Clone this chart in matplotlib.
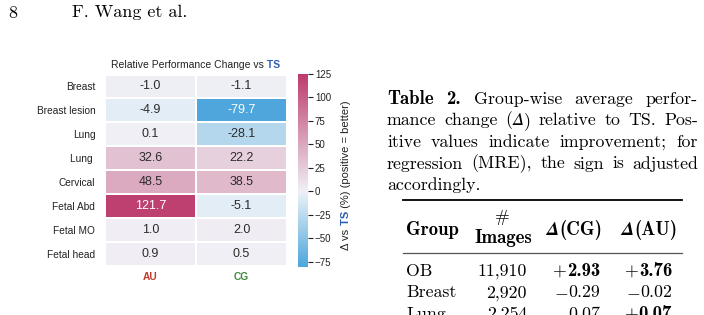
import matplotlib
matplotlib.use("Agg")
import matplotlib.pyplot as plt
import numpy as np
from matplotlib.colors import LinearSegmentedColormap, Normalize

W, H = 704, 315

# heatmap data
rows = ["Breast", "Breast lesion", "Lung", "Lung ", "Cervical", "Fetal Abd", "Fetal MO", "Fetal head"]
methods = ["AU", "CG"]
method_colors = ["#c0392b", "#3d8b3d"]
au_delta = [-1.0, -4.9, 0.1, 32.6, 48.5, 121.7, 1.0, 0.9]
cg_delta = [-1.1, -79.7, -28.1, 22.2, 38.5, -5.1, 2.0, 0.5]
cbar_ticks = [-75, -50, -25, 0, 25, 50, 75, 100, 125]
vmin, vmax = -80, 125

# table data
tab_groups = ["OB", "Breast", "Lung"]
tab_images = ["11,910", "2,920", "2,254"]
tab_cg = [2.93, -0.29, -0.07]
tab_au = [3.76, -0.02, 0.07]
tab_cg_bold = [True, False, False]
tab_au_bold = [True, False, True]

TS_BLUE = "#2f5fb3"
SANS = "Liberation Sans"
plt.rcParams["mathtext.fontset"] = "cm"

fig = plt.figure(figsize=(W / 100, H / 100), dpi=100)
fig.patch.set_facecolor("white")
renderer = fig.canvas.get_renderer()


def put(x, y, s, **kw):
    return fig.text(x / W, 1 - y / H, s, **kw)


def widths_of(texts):
    return [t.get_window_extent(renderer).width for t in texts]


def chain_h(parts, x, y, align="center", **kw):
    # horizontal run of differently styled pieces
    texts = [put(x, y, s, ha="left", va="baseline", **{**kw, **extra}) for s, extra in parts]
    ws = widths_of(texts)
    if align == "center":
        x = x - sum(ws) / 2
    elif align == "right":
        x = x - sum(ws)
    for t, w in zip(texts, ws):
        t.set_x(x / W)
        x += w


def chain_v(parts, x, yc, **kw):
    # vertical (rotated 90) run, reading bottom to top, centred on yc
    texts = [put(x, yc, s, ha="center", va="bottom", rotation=90, **{**kw, **extra})
             for s, extra in parts]
    heights = [t.get_window_extent(renderer).height for t in texts]
    y = yc + sum(heights) / 2
    for t, h in zip(texts, heights):
        t.set_y(1 - y / H)
        y -= h


def justify(words, x0, x1, y, stretch=True, **kw):
    # each word is a list of (text, style) pieces
    placed = []
    for pieces in words:
        ts = [put(x0, y, s, ha="left", va="baseline", **{**kw, **extra}) for s, extra in pieces]
        placed.append((ts, widths_of(ts)))
    total = sum(sum(ws) for _, ws in placed)
    gap = (x1 - x0 - total) / (len(placed) - 1) if stretch and len(placed) > 1 else 4
    x = x0
    for ts, ws in placed:
        for t, w in zip(ts, ws):
            t.set_x(x / W)
            x += w
        x += gap


# ---- heatmap ----
ax = fig.add_axes([105 / W, 1 - 265.5 / H, 182 / W, 191 / H])
z = (0 - vmin) / (vmax - vmin)
cmap = LinearSegmentedColormap.from_list(
    "delta", [(0.0, "#4ea6dc"), (z * 0.93, "#e2edf5"), (z, "#f0f0f5"), (1.0, "#bc3b6d")])
norm = Normalize(vmin, vmax)
data = np.array([au_delta, cg_delta]).T
mesh = ax.pcolormesh(data, cmap=cmap, norm=norm, edgecolors="white", linewidth=1.3)
ax.set_xlim(0, 2)
ax.set_ylim(len(rows), 0)
for i in range(len(rows)):
    for j in range(2):
        v = data[i, j]
        col = "white" if abs(v) > 70 else "#2b2b2b"
        ax.text(j + 0.5, i + 0.5, f"{v:.1f}", ha="center", va="center",
                fontsize=9, color=col, family=SANS)
ax.set_yticks(np.arange(len(rows)) + 0.5)
ax.set_yticklabels(rows, family=SANS, fontsize=7.3, color="#222222")
ax.set_xticks([0.5, 1.5])
ax.set_xticklabels(methods, family=SANS, fontsize=7.3, fontweight="bold")
for lab, c in zip(ax.get_xticklabels(), method_colors):
    lab.set_color(c)
ax.tick_params(axis="y", length=0, pad=7)
ax.tick_params(axis="x", length=0, pad=5)
for s in ax.spines.values():
    s.set_visible(False)

chain_h([("Relative Performance Change vs", {}),
         (" TS", {"color": TS_BLUE, "fontweight": "bold"})],
        196, 67.5, family=SANS, fontsize=7.5, color="#222222")

# ---- colorbar ----
cax = fig.add_axes([298 / W, 1 - 266.5 / H, 10 / W, 192.5 / H])
cb = fig.colorbar(mesh, cax=cax, ticks=cbar_ticks)
cb.outline.set_visible(False)
cax.tick_params(length=3.5, width=0.8, pad=1.5, labelsize=7, colors="#222222")
for lab in cax.get_yticklabels():
    lab.set_family(SANS)
chain_v([("\u0394 vs", {}),
         (" TS", {"color": TS_BLUE, "fontweight": "bold"}),
         (" (%) (positive = better)", {})],
        346, 175, family=SANS, fontsize=8, color="#222222")

# ---- page text ----
fs, fsb = 12.8, 13.5
RM = {"family": "cmr10", "fontsize": fs}
BF = {"family": "cmb10", "fontsize": fsb}
IT_D = {"family": "STIXGeneral", "style": "italic", "fontsize": fs + 0.5}
BI_D = {"family": "STIXGeneral", "style": "italic", "fontweight": "bold", "fontsize": fsb + 0.5}
put(8, 17.5, "8", va="baseline", family="cmr10", fontsize=13)
put(72, 17.5, "F. Wang et al.", va="baseline", family="cmr10", fontsize=13)


def words(*ws):
    return [[(w, {})] if isinstance(w, str) else w for w in ws]


x0, x1 = 387, 698
justify(words([("Table", BF)], [("2.", BF)], "Group-wise", "average", "perfor-"),
        x0, x1, 104, **RM)
justify(words("mance", "change", [("(", {}), ("\u0394", IT_D), (")", {})], "relative",
              "to", "TS.", "Pos-"), x0, x1, 125.5, **RM)
justify(words("itive", "values", "indicate", "improvement;", "for"), x0, x1, 147, **RM)
justify(words("regression", "(MRE),", "the", "sign", "is", "adjusted"), x0, x1, 168.5, **RM)
justify(words("accordingly."), x0, x1, 190, stretch=False, **RM)

# ---- table ----
fig.add_artist(plt.Line2D([403 / W, 682 / W], [1 - 200 / H] * 2, color="black", lw=1.3))
fig.add_artist(plt.Line2D([403 / W, 682 / W], [1 - 253 / H] * 2, color="#555555", lw=0.9))
put(406, 235, "Group", va="baseline", **BF)
put(502, 222, "#", ha="center", va="baseline", **RM)
put(503, 243, "Images", ha="center", va="baseline", **BF)
chain_h([("\u0394", BI_D), ("(CG)", BF)], 602.5, 235, align="right")
chain_h([("\u0394", BI_D), ("(AU)", BF)], 677, 235, align="right")


def value_parts(v, bold):
    sign = "$+$" if v >= 0 else "$-$"
    num = f"{abs(v):.2f}"
    return [(sign, {"fontsize": fs}), (num, BF if bold else RM)]


for k, g in enumerate(tab_groups):
    y = 276 + 21.3 * k
    put(406, y, g, va="baseline", **RM)
    put(527, y, tab_images[k], ha="right", va="baseline", **RM)
    chain_h(value_parts(tab_cg[k], tab_cg_bold[k]), 600, y, align="right")
    chain_h(value_parts(tab_au[k], tab_au_bold[k]), 672, y, align="right")

fig.savefig("out.png", dpi=100, facecolor="white")
